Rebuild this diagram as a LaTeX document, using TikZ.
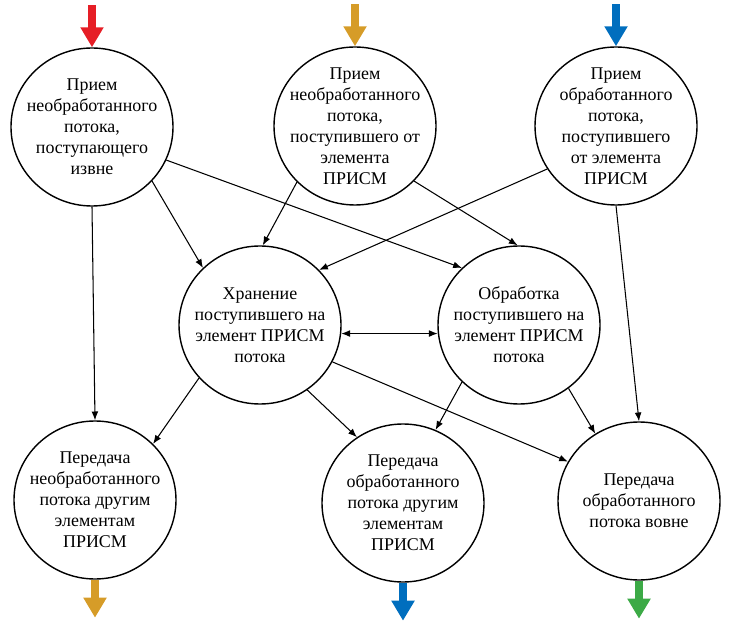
\documentclass[tikz,border=0pt]{standalone}
\usepackage{fontspec}
\setmainfont{Liberation Serif}
\usetikzlibrary{arrows.meta, shapes.geometric}
\definecolor{feedred}{RGB}{230,30,38}
\definecolor{feedorange}{RGB}{214,156,40}
\definecolor{feedblue}{RGB}{0,110,190}
\definecolor{feedgreen}{RGB}{60,170,70}

\begin{document}
\begin{tikzpicture}[
		>={Latex[length=2.2mm, width=1.7mm]},
		stage/.style={ellipse, draw, line width=1pt, minimum width=4.05cm, minimum height=3.95cm, inner sep=-0.6cm, align=center, font=\fontsize{12.75}{15}\selectfont},
		flow/.style={line width=0.75pt},
		feed/.style={-{Triangle[length=5mm, width=5.5mm]}, line width=2mm}
	]
		\useasboundingbox (0,0) rectangle (18.225,15.5);
		% receiving
		\node [stage] (in1) at (2.3,12.325) {Прием\\необработанного\\потока,\\поступающего\\извне};
		\node [stage] (in2) at (8.875,12.35) {Прием\\необработанного\\потока,\\поступившего от\\элемента\\ПРИСМ};
		\node [stage] (in3) at (15.4,12.35) {Прием\\обработанного\\потока,\\поступившего\\от элемента\\ПРИСМ};
		% storing and processing
		\node [stage] (store) at (6.5,7.375) {Хранение\\поступившего на\\элемент ПРИСМ\\потока};
		\node [stage] (proc) at (12.975,7.375) {Обработка\\поступившего на\\элемент ПРИСМ\\потока};
		% sending
		\node [stage] (out1) at (2.375,3.0) {Передача\\необработанного\\потока другим\\элементам\\ПРИСМ};
		\node [stage] (out2) at (10.075,2.925) {Передача\\обработанного\\потока другим\\элементам\\ПРИСМ};
		\node [stage] (out3) at (15.975,2.975) {Передача\\обработанного\\потока вовне};
		
		\coordinate (in1top) at ([yshift=1.05cm]in1.north);
		\coordinate (in2top) at ([yshift=1.05cm]in2.north);
		\coordinate (in3top) at ([yshift=1.05cm]in3.north);
		\coordinate (out1end) at ([yshift=-0.95cm]out1.south);
		\coordinate (out2end) at ([yshift=-0.95cm]out2.south);
		\coordinate (out3end) at ([yshift=-0.95cm]out3.south);
		\draw [feed, feedred] (in1top)--(in1.north);
		\draw [feed, feedorange] (in2top)--(in2.north);
		\draw [feed, feedblue] (in3top)--(in3.north);
		\draw [feed, feedorange] (out1.south)--(out1end);
		\draw [feed, feedblue] (out2.south)--(out2end);
		\draw [feed, feedgreen] (out3.south)--(out3end);
		
		\draw [flow, ->] (in1.south)--(out1.north);
		\draw [flow, ->] (in1.-42)--(store.135);
		\draw [flow, ->] (in1.-24)--(proc.135);
		\draw [flow, ->] (in2.224)--(store.88);
		\draw [flow, ->] (in2.-43)--(proc.91);
		\draw [flow, ->] (in3.212)--(store.43);
		\draw [flow, ->] (in3.south)--(out3.north);
		\draw [flow, <->] (store.-6)--(proc.186);
		\draw [flow, ->] (store.221)--(out1.44);
		\draw [flow, ->] (store.-54)--(out2.125);
		\draw [flow, ->] (store.-27)--(out3.151);
		\draw [flow, ->] (proc.225)--(out2.66);
		\draw [flow, ->] (proc.-52)--(out3.123);
		
	\end{tikzpicture}
\end{document}
